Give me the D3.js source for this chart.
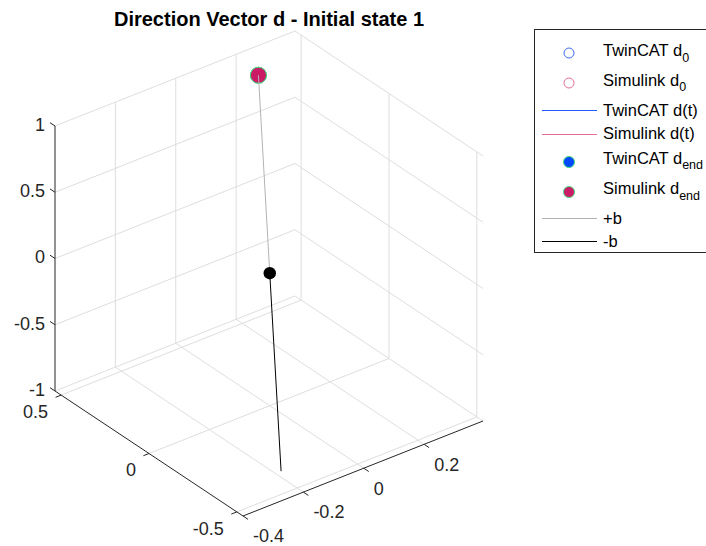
<!DOCTYPE html>
<html><head><meta charset="utf-8">
<script src="https://cdn.jsdelivr.net/npm/d3@7"></script>
<style>
html,body{margin:0;padding:0;background:#fff;}
svg{display:block;font-family:"Liberation Sans",Arial,Helvetica,sans-serif;}
</style>
</head><body>
<svg id="chart" width="706" height="546"></svg>
<script>
// ---------------- data ----------------
const xLimits = [-0.4, 0.395];
const yLimits = [-0.535, 0.535];
const zLimits = [-1, 1];
const xTicks = [-0.4, -0.2, 0, 0.2];
const yTicks = [-0.5, 0, 0.5];
const zTicks = [-1, -0.5, 0, 0.5, 1];
const xTickLabels = ["-0.4", "-0.2", "0", "0.2"];
const yTickLabels = ["-0.5", "0", "0.5"];
const zTickLabels = ["-1", "-0.5", "0", "0.5", "1"];

const twinCAT_d0 = [0.25, 0.494, 0.833];
const simulink_d0 = [0.25, 0.494, 0.833];
const twinCAT_dt = [[0.25, 0.494, 0.833]];
const simulink_dt = [[0.25, 0.494, 0.833]];
const twinCAT_dEnd = [0.25, 0.494, 0.833];
const simulink_dEnd = [0.25, 0.494, 0.833];
const plusB = [[0, 0, 0], [0.25, 0.494, 0.833]];
const minusB = [[0, 0, 0], [-0.25, -0.494, -0.833]];
const originPoint = [0, 0, 0];

const titleText = "Direction Vector d - Initial state 1";
const legendNames = ["TwinCAT d", "Simulink d", "TwinCAT d(t)", "Simulink d(t)", "TwinCAT d", "Simulink d", "+b", "-b"];
const legendSubs = ["0", "0", "", "", "end", "end", "", ""];

// ---------------- layout / projection ----------------
const P0 = [243, 516];     // screen position of (xmin, ymin, zmin)
const EX = [240, -95];     // full x-range direction
const EY = [-188, -125];   // full y-range direction
const EZ = [0, -265];      // full z-range direction

const sx = d3.scaleLinear().domain(xLimits).range([0, 1]);
const sy = d3.scaleLinear().domain(yLimits).range([0, 1]);
const sz = d3.scaleLinear().domain(zLimits).range([0, 1]);
function proj(p) {
  const u = sx(p[0]), v = sy(p[1]), w = sz(p[2]);
  return [P0[0] + u * EX[0] + v * EY[0] + w * EZ[0],
          P0[1] + u * EX[1] + v * EY[1] + w * EZ[1]];
}
const line3 = d3.line().x(d => proj(d)[0]).y(d => proj(d)[1]);

const svg = d3.select("#chart");
const [x0, x1] = xLimits, [y0, y1] = yLimits, [z0, z1] = zLimits;

// ---------------- grid ----------------
const grid = svg.append("g").attr("fill", "none").attr("stroke", "#dedede").attr("stroke-width", 1);
const gridSegs = [];
xTicks.filter(t => t > x0 && t < x1).forEach(t => gridSegs.push([[t, y1, z0], [t, y1, z1]]));
zTicks.forEach(t => gridSegs.push([[x0, y1, t], [x1, y1, t]]));
yTicks.forEach(t => gridSegs.push([[x1, t, z0], [x1, t, z1]]));
zTicks.forEach(t => gridSegs.push([[x1, y0, t], [x1, y1, t]]));
xTicks.filter(t => t > x0).forEach(t => gridSegs.push([[t, y0, z0], [t, y1, z0]]));
yTicks.forEach(t => gridSegs.push([[x0, t, z0], [x1, t, z0]]));
grid.selectAll("path").data(gridSegs).join("path").attr("d", line3);

// ---------------- axes ----------------
const axisColor = "#262626";
const axes = svg.append("g").attr("fill", "none").attr("stroke", axisColor).attr("stroke-width", 1);
axes.append("path").attr("d", line3([[x0, y1, z0], [x0, y1, z1]]));
axes.append("path").attr("d", line3([[x0, y0, z0], [x0, y1, z0]]));
axes.append("path").attr("d", line3([[x0, y0, z0], [x1, y0, z0]]));

function unit(v) { const n = Math.hypot(v[0], v[1]); return [v[0] / n, v[1] / n]; }
const tickLen = 6;
const dirZ = unit(EY), dirY = unit([-EX[0], -EX[1]]), dirX = unit([-EY[0], -EY[1]]);

const labels = svg.append("g").attr("fill", axisColor).style("font-size", "18px");

zTicks.forEach((t, i) => {
  const p = proj([x0, y1, t]);
  axes.append("line").attr("x1", p[0]).attr("y1", p[1])
    .attr("x2", p[0] + dirZ[0] * tickLen).attr("y2", p[1] + dirZ[1] * tickLen);
  labels.append("text").attr("x", p[0] - 10).attr("y", p[1] - 1.5 + 6.3)
    .attr("text-anchor", "end").text(zTickLabels[i]);
});
yTicks.forEach((t, i) => {
  const p = proj([x0, t, z0]);
  axes.append("line").attr("x1", p[0]).attr("y1", p[1])
    .attr("x2", p[0] + dirY[0] * tickLen).attr("y2", p[1] + dirY[1] * tickLen);
  labels.append("text").attr("x", p[0] - 13).attr("y", p[1] + 16.5 + 6.3)
    .attr("text-anchor", "end").text(yTickLabels[i]);
});
xTicks.forEach((t, i) => {
  const p = proj([t, y0, z0]);
  axes.append("line").attr("x1", p[0]).attr("y1", p[1])
    .attr("x2", p[0] + dirX[0] * tickLen).attr("y2", p[1] + dirX[1] * tickLen);
  labels.append("text").attr("x", p[0] + 10).attr("y", p[1] + 20 + 6.3)
    .attr("text-anchor", "start").text(xTickLabels[i]);
});

// ---------------- colours ----------------
const cTwinOpen = "#3d6ef2", cSimOpen = "#e46f9b";
const cTwinLine = "#1f5cff", cSimLine = "#e0709b";
const cTwinFill = "#0048ff", cSimFill = "#cc1b66", cEdge = "#45d97c";
const cPlusB = "#b3b3b3", cMinusB = "#000000";

// ---------------- data marks ----------------
const marks = svg.append("g");
[[twinCAT_d0, cTwinOpen], [simulink_d0, cSimOpen]].forEach(([d, c]) => {
  const p = proj(d);
  marks.append("circle").attr("cx", p[0]).attr("cy", p[1]).attr("r", 5)
    .attr("fill", "none").attr("stroke", c).attr("stroke-width", 1);
});
[[twinCAT_dt, cTwinLine], [simulink_dt, cSimLine]].forEach(([d, c]) => {
  marks.append("path").attr("d", line3(d)).attr("fill", "none").attr("stroke", c).attr("stroke-width", 1);
});
[[twinCAT_dEnd, cTwinFill], [simulink_dEnd, cSimFill]].forEach(([d, c]) => {
  const p = proj(d);
  marks.append("circle").attr("cx", p[0]).attr("cy", p[1]).attr("r", 8)
    .attr("fill", c).attr("stroke", cEdge).attr("stroke-width", 1);
});
marks.append("path").attr("d", line3(plusB)).attr("fill", "none").attr("stroke", cPlusB).attr("stroke-width", 1);
marks.append("path").attr("d", line3(minusB)).attr("fill", "none").attr("stroke", cMinusB).attr("stroke-width", 1);
{
  const p = proj(originPoint);
  marks.append("circle").attr("cx", p[0]).attr("cy", p[1]).attr("r", 6.2).attr("fill", "#000");
}

// ---------------- title ----------------
svg.append("text").attr("x", 269).attr("y", 25.5).attr("text-anchor", "middle")
  .style("font-size", "20px").style("font-weight", "bold").attr("fill", "#000").text(titleText);

// ---------------- legend ----------------
const lg = svg.append("g");
lg.append("rect").attr("x", 534.5).attr("y", 29.5).attr("width", 200).attr("height", 223)
  .attr("fill", "#fff").attr("stroke", "#262626").attr("stroke-width", 1);
const legMarkY = [53, 83, 110.5, 134.5, 162, 192, 218.5, 241.5];
const legTextY = [56, 85.5, 115.5, 138.5, 163.5, 194, 224, 247];
const legKinds = ["open", "open", "line", "line", "fill", "fill", "line", "line"];
const legColors = [cTwinOpen, cSimOpen, cTwinLine, cSimLine, cTwinFill, cSimFill, cPlusB, cMinusB];
legendNames.forEach((name, i) => {
  const y = legMarkY[i];
  if (legKinds[i] === "open") {
    lg.append("circle").attr("cx", 569).attr("cy", y).attr("r", 5).attr("fill", "none")
      .attr("stroke", legColors[i]).attr("stroke-width", 1);
  } else if (legKinds[i] === "fill") {
    lg.append("circle").attr("cx", 569).attr("cy", y).attr("r", 5.5).attr("fill", legColors[i])
      .attr("stroke", cEdge).attr("stroke-width", 1);
  } else {
    lg.append("line").attr("x1", 542).attr("x2", 597).attr("y1", y).attr("y2", y)
      .attr("stroke", legColors[i]).attr("stroke-width", 1);
  }
  const t = lg.append("text").attr("x", 603).attr("y", legTextY[i]).attr("fill", "#000")
    .style("font-size", "16.5px");
  t.append("tspan").text(name);
  if (legendSubs[i]) t.append("tspan").attr("dy", 5.7).style("font-size", "12.5px").text(legendSubs[i]);
});
</script>
</body></html>
